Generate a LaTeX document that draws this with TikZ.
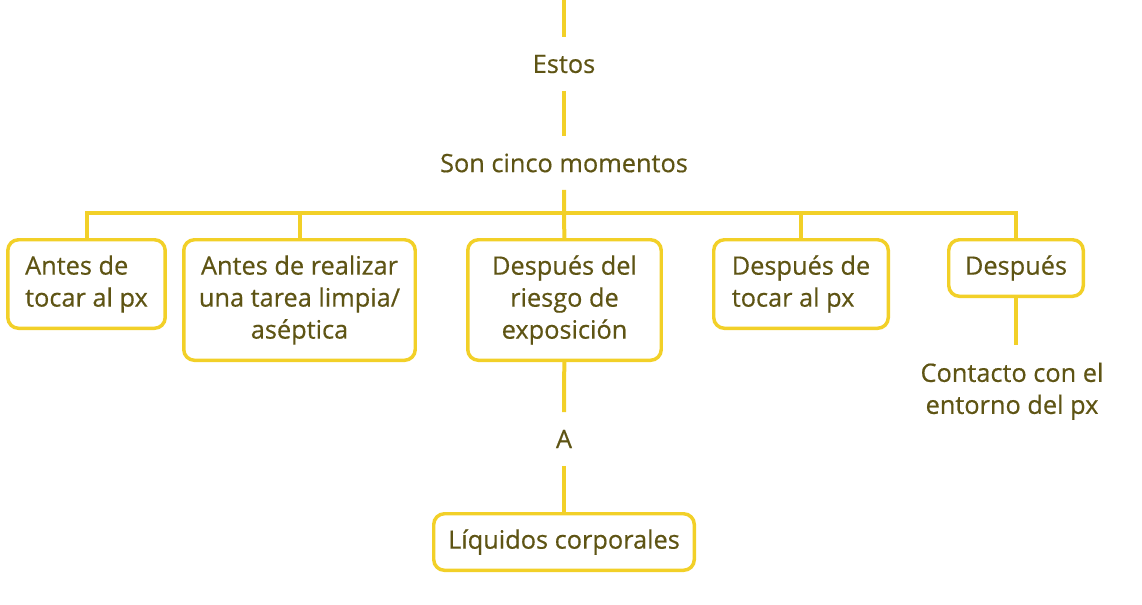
\documentclass[tikz,border=0pt]{standalone}
\usepackage{fontspec}
\setmainfont{Open Sans}[FakeBold=0.5]
\usetikzlibrary{positioning}
\usepackage{xcolor}
\definecolor{momentline}{RGB}{242, 208, 40}
\definecolor{momenttext}{RGB}{94, 84, 20}

\begin{document}
\begin{tikzpicture}[
    x=0.75pt, y=-0.75pt,
    every node/.style={font=\fontsize{19}{24}\selectfont, text=momenttext},
    box/.style={rectangle, draw=momentline, line width=2.6pt, rounded corners=8pt, align=center, inner sep=4pt},
    word/.style={minimum height=40pt, inner sep=0pt, align=center},
    link/.style={draw=momentline, line width=3pt}
]
\useasboundingbox (0,0) rectangle (1142,604);
% top of the map
\coordinate (top) at (564,0);
\node[word] (estos) at (564,64) {Estos};
\node[word] (momentos) at (564,163) {Son cinco momentos};
\coordinate (bar) at (564,213);
% the five moments
\node[box, anchor=north, minimum width=118pt, minimum height=66.4pt, align=left] (antes) at (86.5,238) {Antes de\\tocar al px};
\node[box, anchor=north, minimum width=173.6pt, minimum height=90.4pt] (tarea) at (299.5,238) {Antes de realizar\\una tarea limpia/\\aséptica};
\node[box, anchor=north, minimum width=145.1pt, minimum height=90.4pt] (riesgo) at (564.5,238) {Después del\\riesgo de\\exposición};
\node[box, anchor=north, minimum width=130.9pt, minimum height=66.4pt, align=left] (tocar) at (801,238) {Después de\\tocar al px};
\node[box, anchor=north, minimum width=100.9pt, minimum height=42.4pt] (despues) at (1016,238) {Después};
% below the moments
\node[word] (a) at (564,439) {A};
\node[box, anchor=north, minimum width=195.4pt, minimum height=42.4pt] (liquidos) at (564,512) {Líquidos corporales};
\node[word, anchor=north, inner ysep=13pt, minimum height=0pt] (contacto) at (1012,345) {Contacto con el\\entorno del px};
% connectors
\draw[link] (top) -- (estos);
\draw[link] (estos) -- (momentos);
\draw[link] (momentos) -- (riesgo);
\draw[link] (antes.north) |- (bar) -| (despues.north);
\draw[link] (tarea.north) -- (tarea.north |- bar);
\draw[link] (tocar.north) -- (tocar.north |- bar);
\draw[link] (riesgo) -- (a);
\draw[link] (a) -- (liquidos);
\draw[link] (despues) -- (despues.south |- contacto.north);
\end{tikzpicture}
\end{document}
